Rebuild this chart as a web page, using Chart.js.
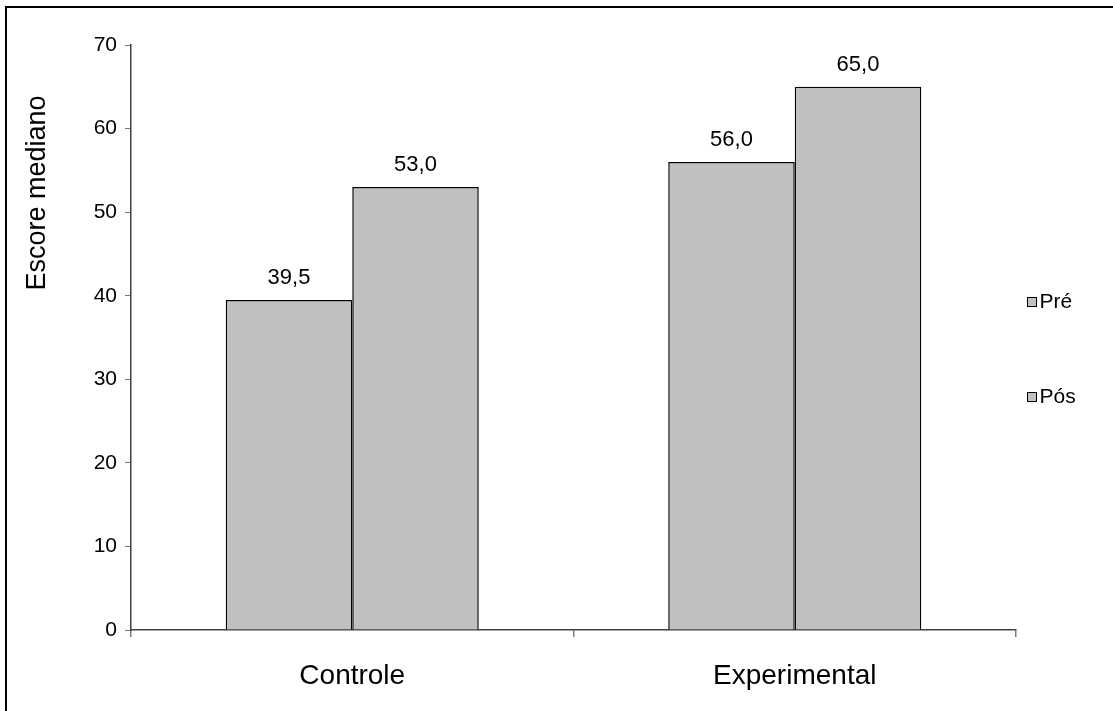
<!DOCTYPE html>
<html lang="pt">
<head>
<meta charset="utf-8">
<title>Escore mediano</title>
<script src="https://cdn.jsdelivr.net/npm/chart.js@4.4.1/dist/chart.umd.min.js"></script>
<style>
  html, body { margin: 0; padding: 0; background: #ffffff; overflow: hidden; }
  canvas { display: block; }
</style>
</head>
<body>
<canvas id="chart" width="1113" height="711"></canvas>
<script>
// Categories, series and axis ticks
const categories = ['Controle', 'Experimental'];
const seriesNames = ['Pré', 'Pós'];
const preValues = [39.5, 56.0];
const posValues = [53.0, 65.0];
const yTickValues = [0, 10, 20, 30, 40, 50, 60, 70];
const yTitle = 'Escore mediano';

const FONT = "'Liberation Sans', Arial, Helvetica, sans-serif";
const BAR_FILL = '#c0c0c0';
const BAR_EDGE = '#000000';
const AXIS = '#404040';
const TICK = '#7a7a7a';

function fmt(v) {
  return v.toFixed(1).replace('.', ',');
}

// Value labels above each bar, vertical axis title, legend and the frame
const decorations = {
  id: 'decorations',
  afterDatasetsDraw(chart) {
    const ctx = chart.ctx;
    ctx.save();
    ctx.fillStyle = '#000';
    ctx.font = `22px ${FONT}`;
    ctx.textAlign = 'center';
    ctx.textBaseline = 'alphabetic';
    chart.data.datasets.forEach((ds, di) => {
      const meta = chart.getDatasetMeta(di);
      meta.data.forEach((bar, i) => {
        ctx.fillText(fmt(ds.data[i]), bar.x, bar.y - 16);
      });
    });
    ctx.restore();
  },
  afterDraw(chart) {
    const ctx = chart.ctx;
    const area = chart.chartArea;
    ctx.save();

    // axis title
    ctx.translate(38, 193);
    ctx.rotate(-Math.PI / 2);
    ctx.font = `27px ${FONT}`;
    ctx.fillStyle = '#000';
    ctx.textAlign = 'center';
    ctx.textBaseline = 'middle';
    ctx.fillText(yTitle, 0, 0);
    ctx.setTransform(1, 0, 0, 1, 0, 0);

    // legend
    const legendY = [302, 397];
    chart.data.datasets.forEach((ds, di) => {
      const y = legendY[di];
      const bx = area.right + 11.5;
      ctx.fillStyle = ds.backgroundColor;
      ctx.fillRect(bx, y - 4.5, 9, 9);
      ctx.strokeStyle = '#000';
      ctx.lineWidth = 1;
      ctx.strokeRect(bx, y - 4.5, 9, 9);
      ctx.fillStyle = '#000';
      ctx.font = `21px ${FONT}`;
      ctx.textAlign = 'left';
      ctx.textBaseline = 'middle';
      ctx.fillText(ds.label, bx + 12, y);
    });

    // frame (top and left edges)
    ctx.fillStyle = '#000';
    ctx.fillRect(5, 6, 2, chart.height - 6);
    ctx.fillRect(5, 6, chart.width - 5, 2);
    ctx.restore();
  }
};

const chart = new Chart(document.getElementById('chart'), {
  type: 'bar',
  data: {
    labels: categories,
    datasets: [
      { label: seriesNames[0], data: preValues, backgroundColor: BAR_FILL, borderColor: BAR_EDGE, borderWidth: 1.5 },
      { label: seriesNames[1], data: posValues, backgroundColor: BAR_FILL, borderColor: BAR_EDGE, borderWidth: 1.5 }
    ]
  },
  options: {
    responsive: false,
    animation: false,
    devicePixelRatio: 1,
    layout: { padding: { left: 0, top: 45, right: 97, bottom: 0 } },
    datasets: { bar: { categoryPercentage: 0.5718, barPercentage: 1.0 } },
    plugins: {
      legend: { display: false },
      tooltip: { enabled: false }
    },
    scales: {
      x: {
        offset: true,
        grid: { display: true, offset: true, drawOnChartArea: false, drawTicks: true, tickLength: 7, color: TICK, lineWidth: 1.5 },
        border: { display: true, color: AXIS, width: 1.5 },
        ticks: { color: '#000', font: { family: FONT, size: 28 }, padding: 22, maxRotation: 0 },
        afterFit(scale) { scale.height = 81; }
      },
      y: {
        min: 0,
        max: 70,
        afterBuildTicks(scale) { scale.ticks = yTickValues.map(v => ({ value: v })); },
        grid: { display: true, drawOnChartArea: false, drawTicks: true, tickLength: 6, color: TICK, lineWidth: 1 },
        border: { display: true, color: AXIS, width: 1.5 },
        ticks: { color: '#000', font: { family: FONT, size: 21 }, padding: 8 },
        title: { display: false },
        afterFit(scale) { scale.width = 131; }
      }
    }
  },
  plugins: [decorations]
});
</script>
</body>
</html>
